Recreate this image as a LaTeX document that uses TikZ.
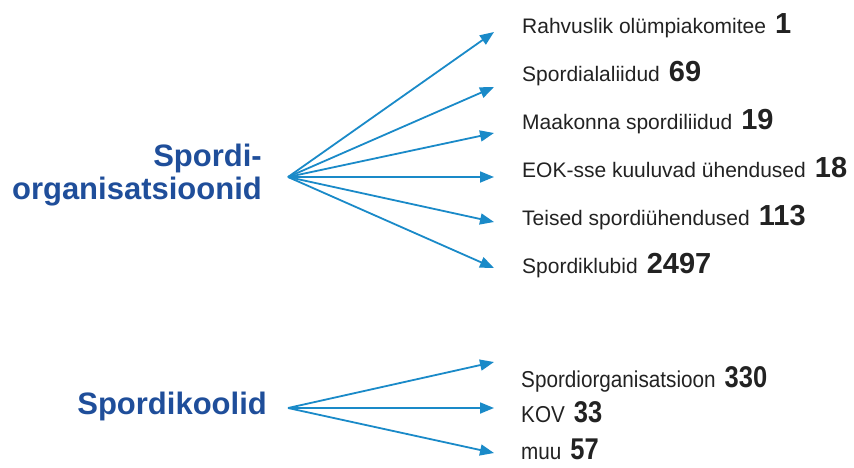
\documentclass[tikz,border=0pt]{standalone}
\usepackage{fontspec}
\setmainfont{Liberation Sans}
\newfontfamily\narrowfont[FakeStretch=0.9]{Liberation Sans}
\newfontfamily\narrowerfont[FakeStretch=0.85]{Liberation Sans}
\usetikzlibrary{arrows.meta}
\definecolor{headblue}{HTML}{1F4E9A}
\definecolor{arrowblue}{HTML}{1A8AC8}
\definecolor{txt}{HTML}{222222}
\tikzset{
  fan/.style={draw=arrowblue, line width=1.8pt, -{Triangle[length=14pt,width=11pt]}},
  head/.style={text=headblue, font=\bfseries\fontsize{31}{33}\selectfont, inner sep=0pt, anchor=base east},
  item/.style={text=txt, font=\fontsize{21}{25}\selectfont, inner sep=0pt, anchor=base west},
  nitem/.style={text=txt, font=\narrowfont\fontsize{23}{26}\selectfont, inner sep=0pt, anchor=base west},
}
\newcommand{\num}[1]{\hspace{9pt}{\bfseries\fontsize{29}{30}\selectfont #1}}
\newcommand{\nnum}[1]{\hspace{9pt}{\narrowerfont\bfseries\fontsize{30}{32}\selectfont #1}}
\begin{document}
\begin{tikzpicture}[x=1pt,y=-1pt]
\useasboundingbox (0,0) rectangle (854,467);
% top group
\node[head] (org1) at (262,166) {Spordi-};
\node[head] (org2) at (262,199) {organisatsioonid};
\coordinate (o1) at (288,177);
\coordinate (t1) at (494,32);
\coordinate (t2) at (494,87);
\coordinate (t3) at (494,133);
\coordinate (t4) at (494,177);
\coordinate (t5) at (494,222);
\coordinate (t6) at (494,268);
\foreach \i in {1,...,6} \draw[fan] (o1) -- (t\i);
\node[item] (l1) at (522,33) {Rahvuslik olümpiakomitee\num{1}};
\node[item] (l2) at (522,81) {Spordialaliidud\num{69}};
\node[item] (l3) at (522,129) {Maakonna spordiliidud\num{19}};
\node[item] (l4) at (522,177) {EOK-sse kuuluvad ühendused\num{18}};
\node[item] (l5) at (522,225) {Teised spordiühendused\num{113}};
\node[item] (l6) at (522,273) {Spordiklubid\num{2497}};
% bottom group
\node[head] (kool) at (267,414) {Spordikoolid};
\coordinate (o2) at (288,408);
\coordinate (b1) at (494,362);
\coordinate (b2) at (494,408);
\coordinate (b3) at (494,453);
\foreach \i in {1,2,3} \draw[fan] (o2) -- (b\i);
\node[nitem] (m1) at (521,387) {Spordiorganisatsioon\nnum{330}};
\node[nitem] (m2) at (521,422) {KOV\nnum{33}};
\node[nitem] (m3) at (521,459) {muu\nnum{57}};
\end{tikzpicture}
\end{document}
